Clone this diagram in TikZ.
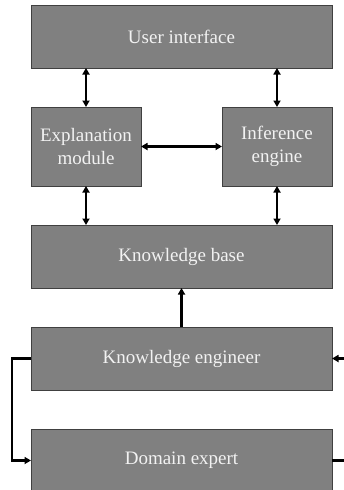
\documentclass[tikz,border=0pt]{standalone}
\usepackage{fontspec}
\setmainfont{Liberation Serif}
\usetikzlibrary{arrows.meta}
\definecolor{boxfill}{HTML}{808080}
\definecolor{boxline}{HTML}{404040}
\definecolor{boxtext}{HTML}{F2F2F2}
\begin{document}
\begin{tikzpicture}[x=1pt,y=-1pt,
  blk/.style={draw=boxline, line width=1pt, fill=boxfill, text=boxtext,
    font=\fontsize{19}{23}\selectfont, align=center, inner sep=0pt, outer sep=0pt},
  conn/.style={line width=2.3pt, black},
  tip/.style={-{Triangle[length=6.5pt,width=7pt]}},
  tips/.style={{Triangle[length=6.5pt,width=7pt]}-{Triangle[length=6.5pt,width=7pt]}}]
\path[use as bounding box] (0,0) rectangle (344,490);
\clip (0,0) rectangle (344,490);
\fill[white] (0,0) rectangle (344,490);
\node[blk, minimum width=301pt, minimum height=63pt] (ui) at (181.5,36.5) {User interface};
\node[blk, minimum width=110pt, minimum height=79pt] (em) at (86,146.5) {Explanation\\module};
\node[blk, minimum width=110pt, minimum height=79pt] (ie) at (277,146.5) {Inference\\engine};
\node[blk, minimum width=301pt, minimum height=63pt] (kb) at (181.5,256.5) {Knowledge base};
\node[blk, minimum width=301pt, minimum height=63pt] (ke) at (181.5,358.5) {Knowledge engineer};
\node[blk, minimum width=301pt, minimum height=63pt] (de) at (181.5,460.5) {Domain expert};
\coordinate (lx) at (12,0);
\coordinate (rx) at (356,0);
\draw[conn,tips] (em.north) -- (em.north |- ui.south);
\draw[conn,tips] (ie.north) -- (ie.north |- ui.south);
\draw[conn,tips] (em.east) -- (ie.west);
\draw[conn,tips] (em.south) -- (em.south |- kb.north);
\draw[conn,tips] (ie.south) -- (ie.south |- kb.north);
\draw[conn,tip] (ke.north) -- (kb.south);
\draw[conn,tip] (ke.west) -- (ke.west -| lx) |- (de.west);
\draw[conn,tip] (de.east) -- (de.east -| rx) |- (ke.east);
\end{tikzpicture}
\end{document}
